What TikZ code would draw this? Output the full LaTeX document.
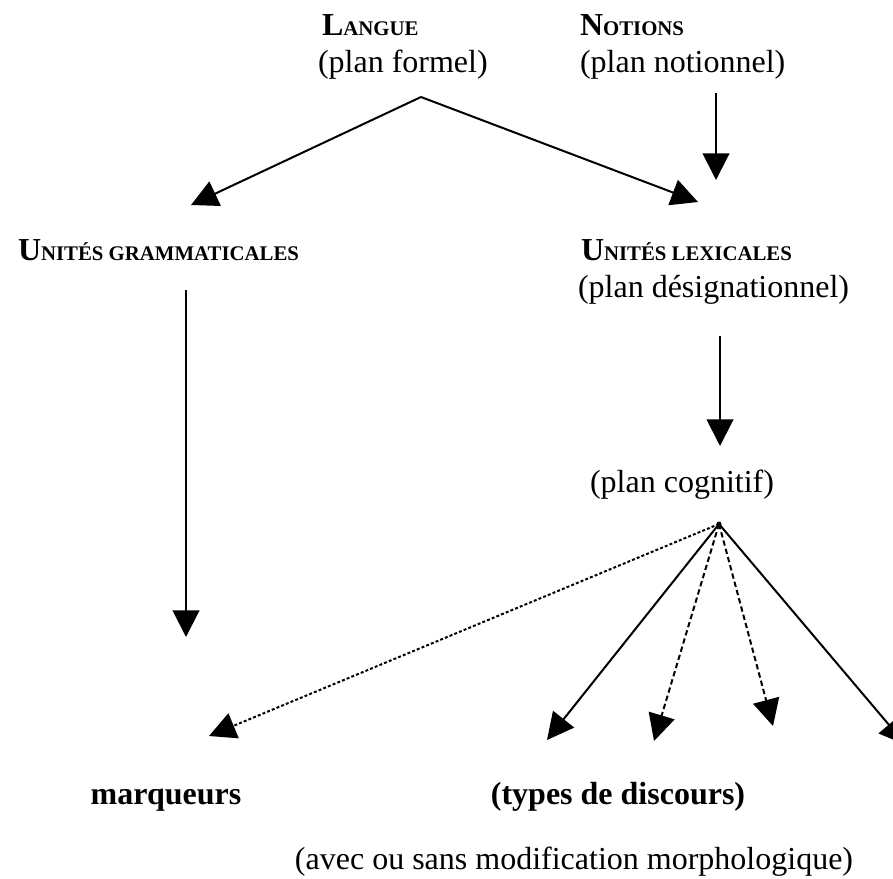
\documentclass[12pt,tikz,border=0pt]{standalone}
\usepackage{fontspec}
\setmainfont{Liberation Serif}
\usetikzlibrary{arrows.meta}

\newcommand{\petitcap}[2]{#1{\fontsize{7.8}{8}\selectfont #2}}

\tikzstyle{txt} = [inner sep=0pt,outer sep=0pt]
\tikzstyle{flow} = [line width=0.75pt,-{Triangle[length=10pt,width=10pt]}]
\tikzstyle{dotflow} = [flow,dash pattern=on 1.1pt off 0.8pt]
\tikzstyle{dashflow} = [flow,dash pattern=on 2pt off 1.2pt]

\begin{document}
\begin{tikzpicture}[x=0.375pt,y=-0.375pt]
	\clip (0,0) rectangle (893,878);

	% labels
	\node (langue) [txt,anchor=base west] at (322,35) {\textbf{\petitcap{L}{ANGUE}}};
	\node (formel) [txt,anchor=base west] at (318,72) {(plan formel)};
	\node (notions) [txt,anchor=base west] at (580,35) {\textbf{\petitcap{N}{OTIONS}}};
	\node (notionnel) [txt,anchor=base west] at (580,72) {(plan notionnel)};
	\node (gram) [txt,anchor=base west] at (18,260) {\textbf{\petitcap{U}{NITÉS GRAMMATICALES}}};
	\node (lex) [txt,anchor=base west] at (581,260) {\textbf{\petitcap{U}{NITÉS LEXICALES}}};
	\node (design) [txt,anchor=base west] at (578,297) {(plan désignationnel)};
	\node (cogn) [txt,anchor=base] at (682,492) {(plan cognitif)};
	\node (marq) [txt,anchor=base] at (166,804) {\textbf{marqueurs}};
	\node (types) [txt,anchor=base] at (618,804) {\textbf{(types de discours)}};
	\node (morph) [txt,anchor=base] at (574,869) {(avec ou sans modification morphologique)};

	% arrow ends
	\coordinate (langue_pt) at (421,97);
	\coordinate (gram_in) at (191,205);
	\coordinate (lex_in) at (698,202);
	\coordinate (notions_out) at (716,93);
	\coordinate (notions_in) at (716,180);
	\coordinate (gram_out) at (186,290);
	\coordinate (gram_tip) at (186,637);
	\coordinate (lex_out) at (720,336);
	\coordinate (cogn_in) at (720,446);
	\coordinate (fan) at (719,524);
	\coordinate (marq_in) at (209,736);
	\coordinate (type_a) at (547,740);
	\coordinate (type_b) at (654,741);
	\coordinate (type_c) at (773,726);
	\coordinate (type_d) at (906,745);

	\path[flow]
		(langue_pt) edge (gram_in)
		(langue_pt) edge (lex_in)
		(notions_out) edge (notions_in)
		(gram_out) edge (gram_tip)
		(lex_out) edge (cogn_in)

		(fan) edge[dotflow] (marq_in)
		(fan) edge (type_a)
		(fan) edge[dashflow] (type_b)
		(fan) edge[dashflow] (type_c)
		(fan) edge (type_d)
		;

	\fill (fan) circle (2.5);

\end{tikzpicture}
\end{document}
